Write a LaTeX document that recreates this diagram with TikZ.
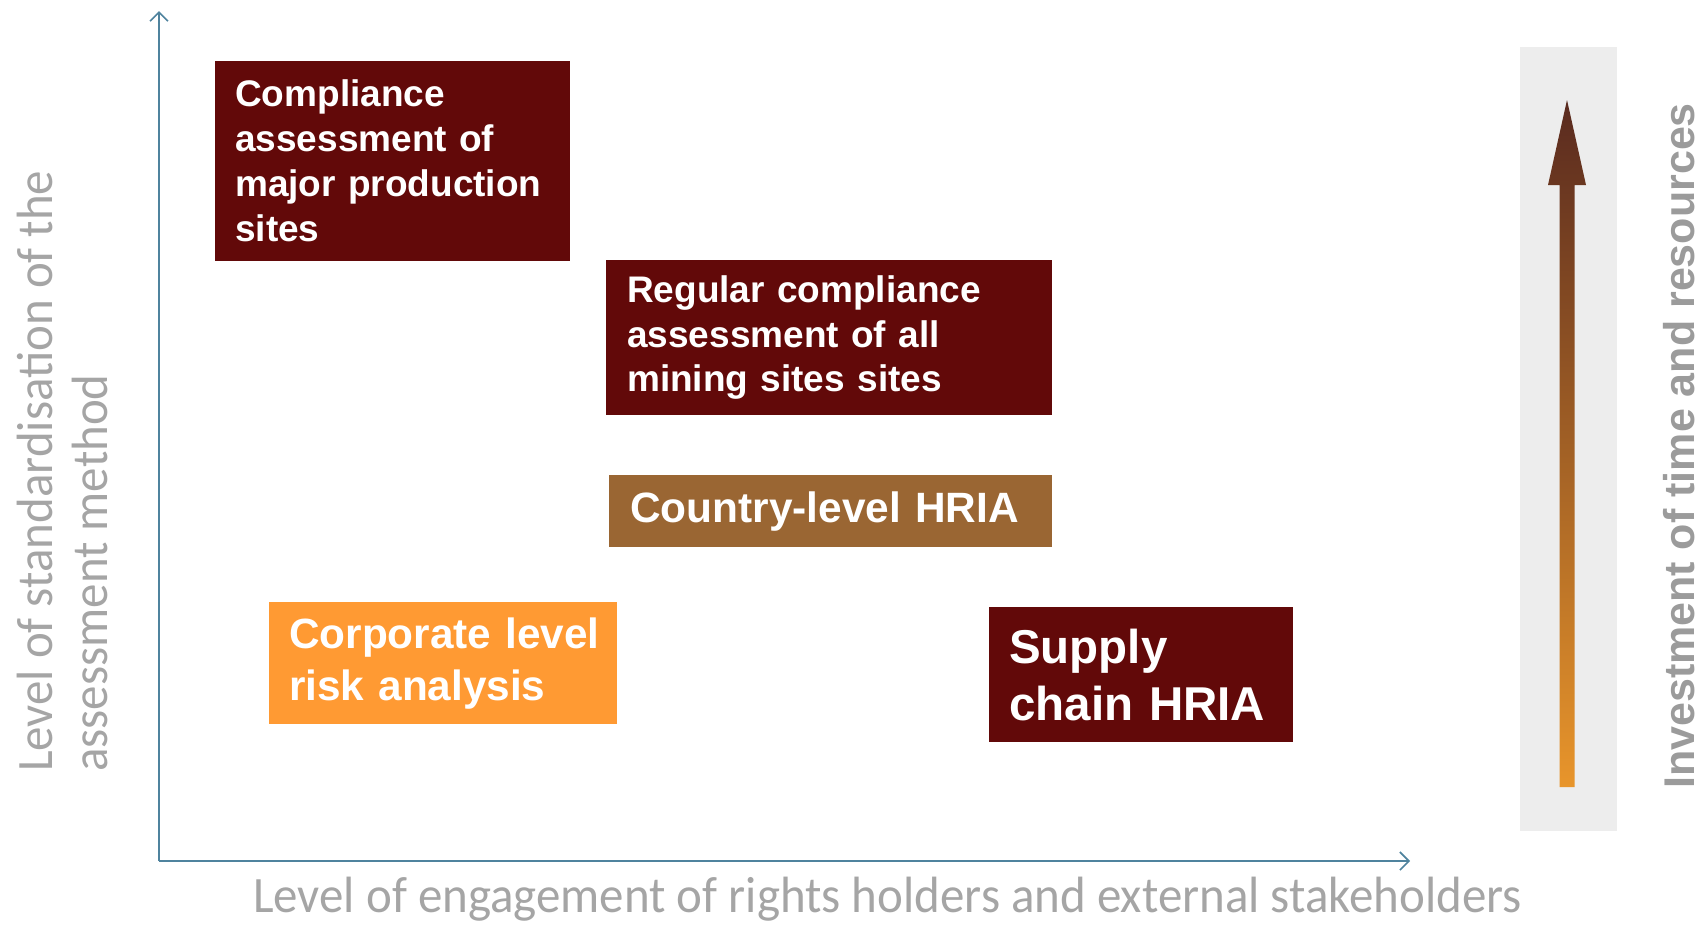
\documentclass[tikz,border=0pt]{standalone}
\usepackage{fontspec}
\setmainfont{Liberation Sans}
\newfontfamily\lightfont[FakeStretch=0.96]{Carlito}
\usetikzlibrary{arrows.meta}
\definecolor{darkred}{HTML}{620909}
\definecolor{brownbox}{HTML}{9A6633}
\definecolor{orangebox}{HTML}{FF9A33}
\definecolor{axisblue}{HTML}{4F839E}
\definecolor{labelgrey}{HTML}{A5A5A5}
\definecolor{rightgrey}{HTML}{9B9B9B}
\definecolor{panelgrey}{HTML}{EDEDED}
\definecolor{arrtop}{HTML}{592A1F}
\definecolor{arrbot}{HTML}{E8952B}
\tikzset{
  boxstyle/.style={anchor=north west, inner xsep=20pt, inner ysep=0pt, text=white, align=left, font=\bfseries},
  axisline/.style={draw=axisblue, line width=1.6pt, -{Straight Barb[length=9pt,width=18pt,line width=1.6pt]}}
}
\begin{document}
\begin{tikzpicture}[x=1pt,y=-1pt]
\useasboundingbox (0,0) rectangle (1706,924);
% axes
\coordinate (origin) at (159,861);
\coordinate (ytop) at (159,11);
\coordinate (xend) at (1410,861);
\draw[axisline] (origin) -- (ytop);
\draw[axisline] (origin) -- (xend);
% boxes
\node[boxstyle, fill=darkred, minimum width=355pt, minimum height=200pt, text width=315pt, font=\bfseries\fontsize{37}{45}\selectfont] (b1) at (215,61)
  {Compliance\\assessment of\\major production\\sites};
\node[boxstyle, fill=darkred, minimum width=446pt, minimum height=155pt, text width=404pt, inner xsep=21pt, font=\bfseries\fontsize{37}{44.6}\selectfont] (b2) at (606,260)
  {Regular compliance\\assessment of all\\mining sites sites};
\node[boxstyle, fill=brownbox, minimum width=443pt, minimum height=72pt, text width=401pt, inner xsep=21pt, font=\bfseries\fontsize{42.4}{50}\selectfont] (b3) at (609,475)
  {Country-level HRIA};
\node[boxstyle, fill=orangebox, minimum width=348pt, minimum height=122pt, text width=308pt, font=\bfseries\fontsize{42.3}{52}\selectfont] (b4) at (269,602)
  {\mbox{Corporate level}\\\mbox{risk analysis}};
\node[boxstyle, fill=darkred, minimum width=304pt, minimum height=135pt, text width=264pt, font=\bfseries\fontsize{47.5}{57}\selectfont] (b5) at (989,607)
  {Supply\\chain HRIA};
% right panel
\fill[panelgrey] (1520,47) rectangle (1617,831);
\shade[top color=arrtop, bottom color=arrbot]
  (1559.5,787) -- (1559.5,185) -- (1548,185) -- (1567,100) -- (1586,185) -- (1574.5,185) -- (1574.5,787) -- cycle;
\node[rotate=90, text=rightgrey, font=\bfseries\fontsize{43}{50}\selectfont, anchor=center] (rlab) at (1679,446)
  {Investment of time and resources};
% axis labels
\node[rotate=90, anchor=base west, align=left, text=labelgrey, font=\lightfont\fontsize{51}{55}\selectfont, inner sep=0pt] (ylab) at (107,772)
  {Level of standardisation of the\\assessment method};
\node[anchor=base west, text=labelgrey, font=\lightfont\fontsize{51}{55}\selectfont, inner sep=0pt] (xlab) at (253,912)
  {Level of engagement of rights holders and external stakeholders};
\end{tikzpicture}
\end{document}
